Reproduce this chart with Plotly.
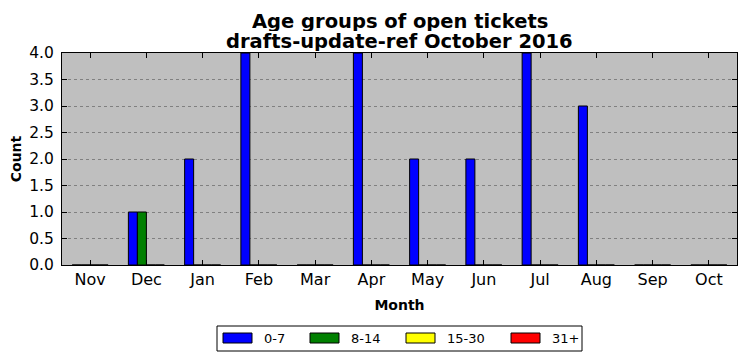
import plotly.graph_objects as go

months = ["Nov", "Dec", "Jan", "Feb", "Mar", "Apr", "May", "Jun", "Jul", "Aug", "Sep", "Oct"]
age_0_7 = [0, 1, 2, 4, 0, 4, 2, 2, 4, 3, 0, 0]
age_8_14 = [0, 1, 0, 0, 0, 0, 0, 0, 0, 0, 0, 0]
age_15_30 = [0, 0, 0, 0, 0, 0, 0, 0, 0, 0, 0, 0]
age_31p = [0, 0, 0, 0, 0, 0, 0, 0, 0, 0, 0, 0]
series_names = ["0-7", "8-14", "15-30", "31+"]
series_colors = ["#0000ff", "#008000", "#ffff00", "#ff0000"]
y_ticks = [0.0, 0.5, 1.0, 1.5, 2.0, 2.5, 3.0, 3.5, 4.0]
title_lines = ["Age groups of open tickets", "drafts-update-ref October 2016"]

font = "DejaVu Sans"
fig = go.Figure()
for name, vals, col in zip(series_names, [age_0_7, age_8_14, age_15_30, age_31p], series_colors):
    fig.add_trace(go.Bar(x=months, y=vals, name=name, showlegend=False,
                         marker=dict(color=col, line=dict(color="black", width=1))))

# page body has an 8px margin, so the figure is offset by (8, 8)
PL, PR, PT, PB = 62, 737, 53, 265  # plot area in page pixels
def px(x):
    return (x - PL) / (PR - PL)
def py(y):
    return (PB - y) / (PB - PT)

shapes = []
annotations = []
# title, two lines
for line, yc in zip(title_lines, [21.5, 41]):
    annotations.append(dict(text=f"<b>{line}</b>", xref="paper", yref="paper", x=0.5, y=py(yc),
                            xanchor="center", yanchor="middle", showarrow=False,
                            height=19, valign="middle",
                            font=dict(family=font, size=19.5, color="black")))
# custom legend (matplotlib-style wide patches)
shapes.append(dict(type="rect", xref="paper", yref="paper", x0=px(217), x1=px(582), y0=py(351), y1=py(326),
                   line=dict(color="black", width=1), fillcolor="white"))
patch_x = [223, 310, 406, 511]
for name, col, x0 in zip(series_names, series_colors, patch_x):
    shapes.append(dict(type="rect", xref="paper", yref="paper", x0=px(x0), x1=px(x0 + 29),
                       y0=py(343), y1=py(333), line=dict(color="black", width=1), fillcolor=col))
    annotations.append(dict(text=name, xref="paper", yref="paper", x=px(x0 + 39), y=py(338.5),
                            xanchor="left", yanchor="middle", showarrow=False,
                            font=dict(family=font, size=13, color="black")))

fig.update_layout(
    width=738, height=353,
    margin=dict(l=54, r=9, t=45, b=96, autoexpand=False),
    paper_bgcolor="white", plot_bgcolor="#bfbfbf",
    barmode="group", bargap=0.36, bargroupgap=0,
    font=dict(family=font, color="black", size=14),
    showlegend=False,
    shapes=shapes,
    annotations=annotations,
)
fig.update_xaxes(
    title=dict(text="<b>Month</b>", font=dict(size=14), standoff=11),
    showline=True, linecolor="black", linewidth=1, mirror="ticks",
    ticks="inside", ticklen=5, tickcolor="black", showgrid=False,
    range=[-0.5, 11.5], tickfont=dict(size=16), automargin=False,
)
fig.update_yaxes(
    title=dict(text="<b>Count</b>", font=dict(size=14), standoff=6),
    range=[0, 4], tickvals=y_ticks, ticktext=[f"{v:.1f}" for v in y_ticks],
    showline=True, linecolor="black", linewidth=1, mirror="ticks",
    ticks="inside", ticklen=5, tickcolor="black",
    showgrid=True, gridcolor="#808080", griddash="dot", gridwidth=1,
    zeroline=False, tickfont=dict(size=15.5), automargin=False, ticklabelstandoff=4,
)
fig.write_html("out.html")
